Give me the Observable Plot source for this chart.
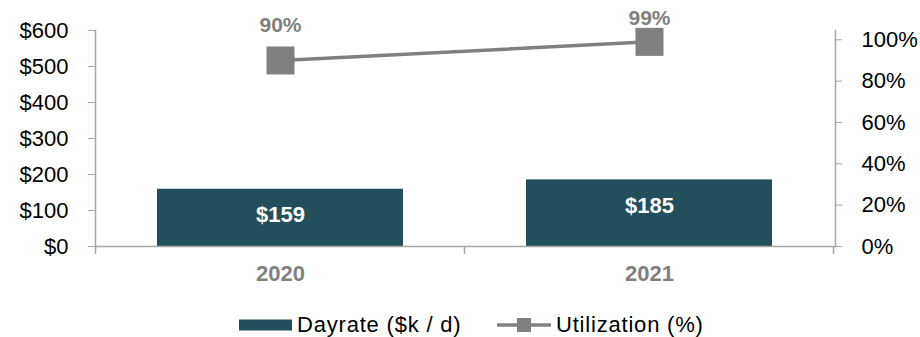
<!DOCTYPE html>
<html>
<head>
<meta charset="utf-8">
<script src="https://cdn.jsdelivr.net/npm/d3@7"></script>
<script src="https://cdn.jsdelivr.net/npm/@observablehq/plot@0.6"></script>
<style>
  html, body { margin: 0; padding: 0; background: #fff; }
  body { width: 920px; height: 337px; overflow: hidden; font-family: "Liberation Sans", Arial, sans-serif; }
  #legend { height: 37px; position: relative; font-size: 22px; color: #000; letter-spacing: 0.8px; }
  .item { position: absolute; top: 14px; display: flex; align-items: center; height: 22px; }
  .item span { margin-left: 5px; }
</style>
</head>
<body>
<div id="chart"></div>
<div id="legend">
  <div class="item" style="left:239px"><svg width="53" height="12"><rect x="0" y="0.5" width="53" height="11" fill="#234E5B"></rect></svg><span>Dayrate ($k / d)</span></div>
  <div class="item" style="left:497px"><svg width="54" height="16"><line x1="0" x2="54" y1="8" y2="8" stroke="#808080" stroke-width="3.5"></line><rect x="20" y="1" width="14" height="14" fill="#808080"></rect></svg><span>Utilization (%)</span></div>
</div>
<script>
// ---- data ----
const years = ["2020", "2021"];
const dayrate = [159, 185];            // $k / d
const utilization = [0.90, 0.99];      // share
const dayrateTicks = [0, 100, 200, 300, 400, 500, 600];
const utilTicks = [0, 0.2, 0.4, 0.6, 0.8, 1.0];
const utilLabels = ["90%", "99%"];

// ---- scale setup ----
const yMax = 600;
const utilMax = 1.045;                 // right axis top
const k = yMax / utilMax;              // maps utilization onto left scale

const barColor = "#234E5B";
const gray = "#808080";
const axisGray = "#a6a6a6";

const bars = years.map((y, i) => ({year: y, value: dayrate[i]}));
const util = years.map((y, i) => ({year: y, u: utilization[i], label: utilLabels[i]}));

const plot = Plot.plot({
  width: 920,
  height: 300,
  marginLeft: 95,
  marginRight: 85,
  marginTop: 30,
  marginBottom: 54,
  x: {domain: years, paddingInner: 0.333, paddingOuter: 0.1667, axis: null},
  y: {domain: [0, yMax], axis: null},
  style: {fontFamily: "'Liberation Sans', Arial, sans-serif", background: "#fff", overflow: "visible"},
  marks: [
    Plot.barY(bars, {x: "year", y: "value", fill: barColor}),
    Plot.frame({anchor: "left", stroke: axisGray, strokeWidth: 1.5}),
    Plot.frame({anchor: "right", stroke: axisGray, strokeWidth: 1.5}),
    Plot.frame({anchor: "bottom", stroke: axisGray, strokeWidth: 1.5}),
    Plot.axisY(dayrateTicks, {
      anchor: "left", tickSize: 7, tickPadding: 20, fontSize: 22, label: null,
      tickFormat: d => "$" + d, stroke: axisGray, fill: "#000", letterSpacing: 0.8
    }),
    Plot.axisY(utilTicks.map(t => t * k), {
      anchor: "right", tickSize: 6, tickPadding: 20, fontSize: 22, label: null,
      tickFormat: d => Math.round(d / k * 100) + "%", stroke: axisGray, fill: "#000", letterSpacing: 0.8
    }),
    Plot.axisX(years, {
      anchor: "bottom", tickSize: 0, tickPadding: 19, fontSize: 22, label: null,
      fontWeight: "bold", fill: gray
    }),
    Plot.text(bars, {
      x: "year", y: "value", text: d => "$" + d.value, dy: 26,
      fill: "#fff", fontSize: 22, fontWeight: "bold"
    }),
    Plot.line(util, {x: "year", y: d => d.u * k, stroke: gray, strokeWidth: 3.5}),
    Plot.dot(util, {x: "year", y: d => d.u * k, symbol: "square", r: 15.8, fill: gray, stroke: "none"}),
    Plot.text(util.filter((d, i) => i === 0), {
      x: "year", y: d => d.u * k, text: "label", dy: -35.5,
      fill: gray, fontSize: 21, fontWeight: "bold"
    }),
    Plot.text(util.filter((d, i) => i === 1), {
      x: "year", y: d => d.u * k, text: "label", dy: -23.5,
      fill: gray, fontSize: 21, fontWeight: "bold"
    })
  ]
});

// category boundary ticks on the x axis, derived from the band scale
const xs = plot.scale("x");
const ys = plot.scale("y");
const y0 = ys.apply(0);
const bounds = [];
years.forEach((yr, i) => {
  const c = xs.apply(yr) + xs.bandwidth / 2;
  if (i === 0) bounds.push(c - xs.step / 2);
  bounds.push(c + xs.step / 2);
});
const g = d3.select(plot).append("g").attr("stroke", axisGray).attr("stroke-width", 1.5);
bounds.forEach(b => g.append("line").attr("x1", b).attr("x2", b).attr("y1", y0).attr("y2", y0 + 8));

document.getElementById("chart").appendChild(plot);
</script>
</body>
</html>
